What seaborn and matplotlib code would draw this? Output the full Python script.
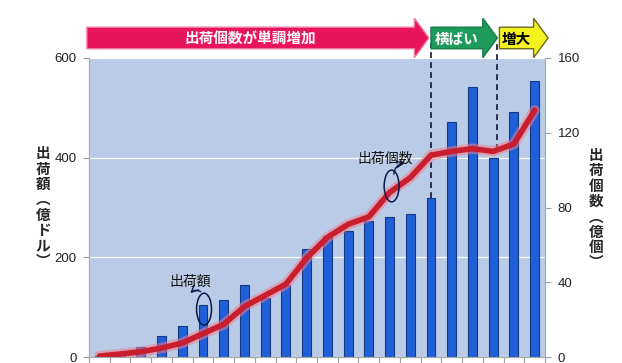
"""
plot.py
Shipment value (bars, left axis) and shipment units (line, right axis).
"""

import numpy as np
import pandas as pd
import matplotlib
matplotlib.use("Agg")
import matplotlib.pyplot as plt
import matplotlib.transforms as mtransforms
from matplotlib.patches import Ellipse, Polygon
import seaborn as sns

# values, 22 periods (no labels on x)
period         = list(range(22))
shipment_value = [2, 4, 20, 43, 63, 104, 114, 144, 119, 145, 216, 242,
                  253, 273, 281, 287, 319, 472, 542, 400, 492, 554]      # 億ドル
shipment_units = [0.5, 1.6, 2.8, 4.8, 7.5, 12.5, 17.5, 27, 33, 39, 53, 64,
                  71, 75, 88, 96, 108, 110, 111.5, 110, 114, 132]        # 億個

left_ticks  = [0, 200, 400, 600]
right_ticks = [0, 40, 80, 120, 160]

left_label  = "出荷額︵億ドル︶"
right_label = "出荷個数︵億個︶"
phase_names = ["出荷個数が単調増加", "横ばい", "増大"]

df = pd.DataFrame({"period": period, "value": shipment_value, "units": shipment_units})

sns.set_theme(style="white")
plt.rcParams["font.family"] = ["Liberation Sans", "Noto Sans CJK JP", "DejaVu Sans"]
CJK = ["Noto Sans CJK JP", "DejaVu Sans"]

fig = plt.figure(figsize=(6.22, 3.63), dpi=100)
ax = fig.add_axes([89 / 622, 6 / 363, 456 / 622, 299 / 363])
ax.set_facecolor("#b9cbe6")

# bars
sns.barplot(data=df, x="period", y="value", ax=ax, width=0.43,
            color="#1f5fd8", edgecolor="#123a85", linewidth=0.8, saturation=1)
ax.set_xlim(-0.5, 21.5)
ax.set_ylim(0, 600)
ax.set_yticks(left_ticks)
ax.set_xticks(np.arange(-0.5, 22, 1))
ax.set_xticklabels([])
ax.set_xlabel("")
ax.set_ylabel("")
ax.yaxis.grid(True, color="white", lw=0.9)
ax.set_axisbelow(True)

# line on the right axis (pink glow under a thick red line)
ax2 = ax.twinx()
sns.lineplot(data=df, x="period", y="units", ax=ax2, color="#f27c8e",
             lw=7.5, alpha=0.55, solid_capstyle="round")
sns.lineplot(data=df, x="period", y="units", ax=ax2, color="#c81e2e",
             lw=4.0, solid_capstyle="round")
ax2.set_ylim(0, 160)
ax2.set_yticks(right_ticks)
ax2.set_ylabel("")
ax2.set_xlabel("")

for a in (ax, ax2):
    for s in a.spines.values():
        s.set_color("#a8a8a8")
        s.set_linewidth(0.8)
    a.tick_params(axis="y", length=4, width=0.8, color="#a0a0a0",
                  labelsize=9.5, pad=5, labelcolor="#222222")
ax.tick_params(axis="x", length=5, width=0.8, color="#a0a0a0", bottom=True)
ax.spines["top"].set_visible(False)
ax2.spines["top"].set_visible(False)
ax.tick_params(axis="y", left=True)
ax2.tick_params(axis="y", right=True)

# vertical axis titles (stacked characters)
fig.text(43 / 622, 0.43, "\n".join(left_label), ha="center", va="center",
         fontsize=10.5, fontweight="bold", family=CJK, linespacing=0.95)
fig.text(596 / 622, 0.425, "\n".join(right_label), ha="center", va="center",
         fontsize=10.5, fontweight="bold", family=CJK, linespacing=0.95)

# phase boundaries (dashed)
trans = mtransforms.blended_transform_factory(ax.transData, ax.transAxes)
b1, b2 = 16, 19.2
ax.plot([b1, b1], [shipment_value[b1] / 600, 1.05], transform=trans,
        color="#111133", lw=1.2, ls=(0, (3.5, 2.5)), clip_on=False, zorder=5)
ax.plot([b2, b2], [np.interp(b2, period, shipment_units) / 160, 1.05], transform=trans,
        color="#111133", lw=1.2, ls=(0, (3.5, 2.5)), clip_on=False, zorder=5)


def phase_arrow(x0, x_head, x_tip, face, edge, label, tcolor):
    yc, bh, hh = 1.067, 0.036, 0.066
    pts = [(x0, yc - bh), (x_head, yc - bh), (x_head, yc - hh), (x_tip, yc),
           (x_head, yc + hh), (x_head, yc + bh), (x0, yc + bh)]
    ax.add_patch(Polygon(pts, closed=True, transform=trans, facecolor=face,
                         edgecolor=edge, lw=1.0, clip_on=False, zorder=6))
    ax.text((x0 + x_head) / 2, yc - 0.003, label, transform=trans, ha="center",
            va="center", fontsize=10.5, fontweight="bold", color=tcolor,
            family=CJK, zorder=7, clip_on=False)


phase_arrow(-0.6, 15.2, 15.9, "#e8155c", "#f07aa0", phase_names[0], "white")
phase_arrow(16.0, 18.5, 19.2, "#1e9b5a", "#157a45", phase_names[1], "white")
phase_arrow(19.3, 20.95, 21.65, "#f4f21e", "#6a6a20", phase_names[2], "black")

# callouts
ax.add_patch(Ellipse((5.05, 96), 0.72, 64, fill=False, ec="#0b1a4a", lw=1.1, zorder=4))
ax.annotate("", xy=(4.3, 124), xytext=(5.0, 128),
            arrowprops=dict(arrowstyle="->", color="#0b1a4a", lw=1.0,
                            connectionstyle="arc3,rad=0.5"))
ax.text(4.4, 152, "出荷額", ha="center", va="center", fontsize=10,
        family=CJK, color="#111111")

ax2.add_patch(Ellipse((14.1, 91.5), 0.72, 17, fill=False, ec="#0b1a4a", lw=1.1, zorder=4))
ax2.annotate("", xy=(14.86, 103.8), xytext=(14.2, 96.3),
             arrowprops=dict(arrowstyle="->", color="#0b1a4a", lw=1.0,
                             connectionstyle="arc3,rad=-0.5"))
ax2.text(13.8, 106, "出荷個数", ha="center", va="center", fontsize=10,
         family=CJK, color="#111111")

fig.savefig("out.png", dpi=100)
plt.close(fig)
